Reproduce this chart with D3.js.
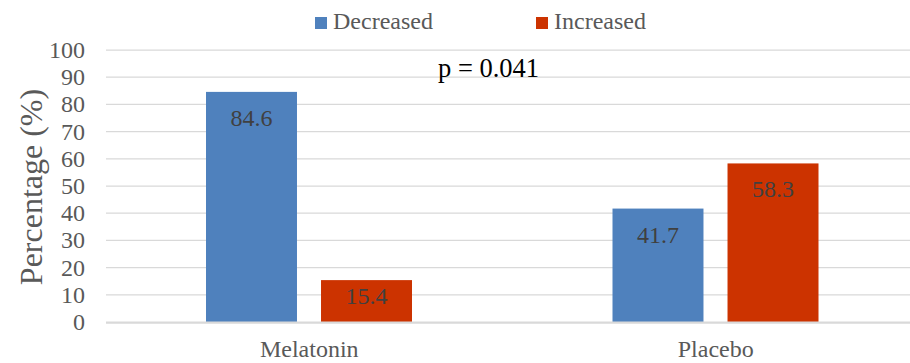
<!DOCTYPE html>
<html>
<head>
<meta charset="utf-8">
<script src="https://cdn.jsdelivr.net/npm/d3@7"></script>
<style>html,body{margin:0;padding:0;background:#fff}</style>
</head>
<body>
<svg id="chart" width="910" height="363" font-family="Liberation Serif"></svg>
<script>
const categories = ["Melatonin", "Placebo"];
const seriesNames = ["Decreased", "Increased"];
const decreased = [84.6, 41.7];
const increased = [15.4, 58.3];
const yTicks = [0, 10, 20, 30, 40, 50, 60, 70, 80, 90, 100];
const colors = ["#4F81BD", "#CC3300"];
const pText = "p = 0.041";
const yTitle = "Percentage (%)";

const values = [decreased, increased];
const svg = d3.select("#chart");

const y = d3.scaleLinear().domain([0, 100]).range([322, 50]);
const x0 = d3.scaleBand().domain(categories).range([106, 919]).padding(0);
const x1 = d3.scaleBand().domain(seriesNames).range([100, 306]).paddingInner(0.209).paddingOuter(0);

function label(x, yy, txt, size, fill, anchor) {
  return svg.append("text")
    .attr("x", x).attr("y", yy)
    .attr("font-family", "Liberation Serif")
    .attr("font-size", size)
    .attr("fill", fill)
    .attr("text-anchor", anchor || "start")
    .text(txt);
}

// gridlines
svg.append("g").selectAll("line")
  .data(yTicks.filter(t => t !== 0))
  .join("line")
  .attr("x1", 106).attr("x2", 910)
  .attr("y1", d => y(d)).attr("y2", d => y(d))
  .attr("stroke", "#D9D9D9").attr("stroke-width", 1.25);

// y axis (ticks positions from the axis scale), labels drawn as plain text
const yAxis = d3.axisLeft(y).tickValues(yTicks).tickSize(0).tickFormat(d3.format("d"));
const yg = svg.append("g").attr("transform", "translate(85,0)").call(yAxis);
yg.select(".domain").remove();
yg.selectAll("text").remove();
yTicks.forEach(t => label(85, y(t) + 8, d3.format("d")(t), 24, "#595959", "end"));

// bars
const rows = [];
categories.forEach((c, i) => seriesNames.forEach((s, j) => rows.push({c, s, j, v: values[j][i]})));

svg.append("g").selectAll("rect")
  .data(rows)
  .join("rect")
  .attr("x", d => x0(d.c) + x1(d.s))
  .attr("width", x1.bandwidth())
  .attr("y", d => y(d.v))
  .attr("height", d => y(0) - y(d.v))
  .attr("fill", d => colors[d.j]);

// baseline axis
svg.append("line")
  .attr("x1", 106).attr("x2", 910)
  .attr("y1", y(0) + 0.5).attr("y2", y(0) + 0.5)
  .attr("stroke", "#D9D9D9").attr("stroke-width", 2.25);

// data labels
rows.forEach(d => {
  const h = y(0) - y(d.v);
  label(x0(d.c) + x1(d.s) + x1.bandwidth() / 2, y(d.v) + Math.min(34, h / 2 + 3),
        d.v.toFixed(1), 24, "#404040", "middle");
});

// category labels
categories.forEach(c => label(x0(c) + x0.bandwidth() / 2, 357, c, 24, "#595959", "middle"));

// y title
label(0, 0, yTitle, 32, "#595959", "middle").attr("transform", "translate(42,187) rotate(-90)");

// legend
const legendX = [315, 536];
seriesNames.forEach((s, i) => {
  svg.append("rect").attr("x", legendX[i]).attr("y", 17).attr("width", 12).attr("height", 12)
    .attr("fill", colors[i]);
  label(legendX[i] + 18, 29, s, 24, "#595959");
});

// p value
label(438, 77, pText, 26.5, "#000");
</script>
</body>
</html>
